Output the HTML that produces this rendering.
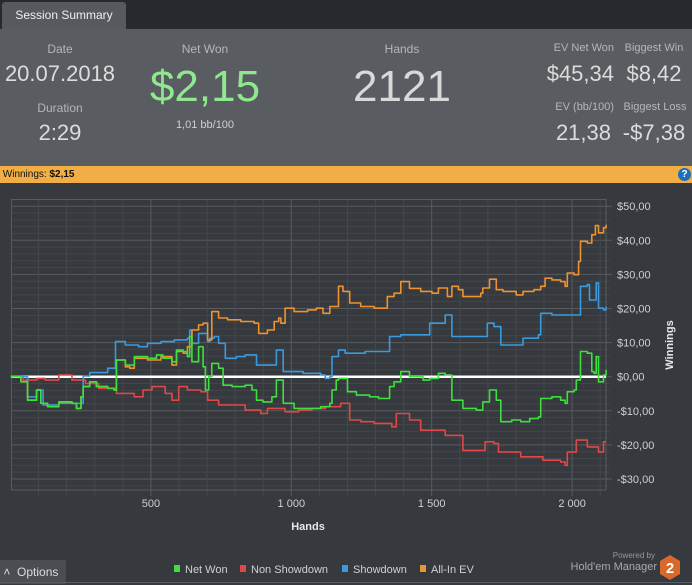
<!DOCTYPE html>
<html><head><meta charset="utf-8"><style>
body{margin:0;width:692px;height:585px;background:#36393d;font-family:"Liberation Sans",sans-serif;overflow:hidden;position:relative}
.a{position:absolute}
.lbl{color:#b4b7ba;font-size:12px}
.val{color:#dcdcdc;font-size:22px}
</style></head><body>
<div class="a" style="left:0;top:0;width:692px;height:29px;background:#26292d"></div>
<div class="a" style="left:2px;top:2px;width:124px;height:27px;background:#56595d;border-radius:3px 3px 0 0;color:#eee;font-size:12px;line-height:27px;text-align:center">Session Summary</div>
<div class="a" style="left:0;top:29px;width:692px;height:137px;background:#595c60"></div>
<div class="a lbl" style="left:0;top:42px;width:120px;text-align:center">Date</div>
<div class="a val" style="left:0;top:61px;width:120px;text-align:center">20.07.2018</div>
<div class="a lbl" style="left:0;top:101px;width:120px;text-align:center">Duration</div>
<div class="a val" style="left:0;top:120px;width:120px;text-align:center">2:29</div>
<div class="a lbl" style="left:145px;top:42px;width:120px;text-align:center">Net Won</div>
<div class="a" style="left:125px;top:62px;width:160px;text-align:center;color:#8fe88f;font-size:44px">$2,15</div>
<div class="a" style="left:145px;top:119px;width:120px;text-align:center;color:#cfcfcf;font-size:11px">1,01 bb/100</div>
<div class="a lbl" style="left:342px;top:42px;width:120px;text-align:center">Hands</div>
<div class="a" style="left:322px;top:62px;width:160px;text-align:center;color:#d9d9d9;font-size:44px">2121</div>
<div class="a lbl" style="left:534px;top:42px;width:80px;text-align:right;font-size:11px">EV Net Won</div>
<div class="a val" style="left:514px;top:61px;width:100px;text-align:right">$45,34</div>
<div class="a lbl" style="left:618px;top:42px;width:72px;text-align:center;font-size:11px">Biggest Win</div>
<div class="a val" style="left:614px;top:61px;width:80px;text-align:center">$8,42</div>
<div class="a lbl" style="left:534px;top:101px;width:80px;text-align:right;font-size:11px">EV (bb/100)</div>
<div class="a val" style="left:514px;top:120px;width:97px;text-align:right">21,38</div>
<div class="a lbl" style="left:618px;top:101px;width:74px;text-align:center;font-size:11px">Biggest Loss</div>
<div class="a val" style="left:614px;top:120px;width:80px;text-align:center">-$7,38</div>
<div class="a" style="left:0;top:166px;width:692px;height:17px;background:#f2ae46;font-size:10px;line-height:17px;color:#111">&nbsp;Winnings: <b>$2,15</b></div>
<div class="a" style="left:678px;top:168px;width:13px;height:13px;border-radius:50%;background:#1c6fc0;color:#fff;font-size:10px;font-weight:bold;line-height:13px;text-align:center">?</div>

<svg class="a" style="left:0;top:0" width="692" height="585" id="chart"></svg>

<div class="a" style="left:0;top:560px;width:66px;height:24px;background:#4a4d51;color:#ddd;font-size:12px;line-height:24px">&nbsp;&#708;&nbsp;&nbsp;Options</div>
<div class="a" style="left:0;top:582px;width:692px;height:1px;background:#5a5d61"></div>
<div class="a" style="left:580px;top:551px;width:75px;text-align:right;color:#999;font-size:8px">Powered by</div>
<div class="a" style="left:540px;top:561px;width:117px;text-align:right;color:#aaa;font-size:11px">Hold'em Manager</div>
<svg class="a" style="left:659px;top:555px" width="22" height="25"><polygon points="11,0 21,6 21,19 11,25 1,19 1,6" fill="#d9692a"/><text x="11" y="18" text-anchor="middle" fill="#fff" font-size="15" font-weight="bold" font-family="Liberation Sans">2</text></svg>

<script>
const evHands = [0,37,61,93,108,132,172,219,235,251,259,282,306,346,369,377,409,425,441,488,536,575,591,615,630,646,670,686,702,717,741,773,820,868,884,915,939,955,963,978,1010,1058,1089,1113,1137,1168,1184,1208,1247,1295,1327,1342,1366,1390,1421,1461,1501,1524,1556,1572,1595,1611,1643,1675,1682,1706,1730,1754,1801,1825,1864,1888,1904,1928,1959,1975,1983,2007,2023,2030,2054,2070,2083,2094,2112,2121];
const evValues = [0,-1.5,-6.9,-3.9,-7.8,-8.8,-7.4,-7.8,-9.3,-5.9,-2.9,-1.5,-2.9,-3.4,-3.9,4.9,2.9,2.5,5.4,4.9,5.9,3.4,7.4,6.9,8.8,13.7,15.2,15.7,10.8,19.1,17.2,16.7,16.2,15.7,12.7,13.7,16.2,17.2,15.7,20.1,19.1,19.6,20.1,18.6,20.6,26.5,25.0,21.6,20.6,20.1,20.1,23.5,24.5,27.9,25.9,25.0,24.5,26.0,23.5,26.5,25.5,23.5,23.5,24.5,26.0,28.6,25.5,25.0,24.0,25.0,25.5,26.5,28.9,28.4,27.9,26.5,30.4,29.9,33.8,39.7,39.2,41.6,44.3,42.2,43.7,44.6];
const netHands = [0,37,61,93,108,132,172,219,235,251,259,282,306,346,369,377,409,441,488,520,543,575,591,615,630,638,646,662,670,686,694,706,717,741,757,789,836,860,876,899,931,947,971,1010,1073,1105,1137,1145,1160,1168,1200,1232,1279,1311,1342,1350,1366,1390,1421,1469,1493,1524,1548,1572,1611,1659,1682,1706,1730,1746,1785,1817,1849,1880,1888,1928,1959,1975,1983,2007,2015,2030,2054,2070,2078,2086,2094,2112,2121];
const netValues = [0,-1.5,-6.9,-3.9,-7.8,-8.8,-7.4,-7.8,-9.3,-5.9,-2.9,-1.5,-2.9,-3.4,-3.9,4.9,3.4,5.9,5.4,6.4,5.4,4.4,7.8,7.4,5.9,11.8,4.4,4.4,8.8,2.9,-3.9,0,3.9,2.5,-2.5,-2.9,-2.5,-3.9,-6.9,-7.4,-5.9,-1.0,-7.8,-9.3,-9.3,-8.8,-7.8,-3.9,-1.0,-0.5,-4.4,-5.4,-5.9,-6.4,-6.4,-2.9,-1.5,1.5,0,-1.0,-0.5,1.0,0.5,-6.9,-9.3,-9.8,-7.4,-3.9,-6.9,-13.2,-12.7,-13.2,-12.3,-11.8,-6.4,-5.9,-6.9,-7.8,-4.4,-3.9,-1.0,7.4,6.9,1.5,1.0,5.9,-1.5,0.5,2.0];
const sdHands = [0,61,93,116,172,243,259,282,346,374,409,456,488,536,583,630,638,646,670,702,710,725,741,765,804,836,876,931,947,971,1042,1105,1121,1137,1145,1168,1192,1263,1342,1350,1390,1461,1493,1548,1572,1690,1698,1722,1746,1809,1825,1880,1888,1928,2023,2030,2054,2062,2078,2086,2094,2112,2121];
const sdValues = [0,-5.9,-3.9,-8.3,-7.8,-7.8,0.2,1.2,2.5,10.3,9.3,8.8,9.8,10.3,10.8,11.3,13.7,9.8,12.7,10.3,11.3,11.8,9.8,5.4,5.9,6.4,3.4,3.4,7.8,1.5,1.0,0.5,-0.5,0,5.9,7.8,6.9,7.4,7.4,11.8,12.3,12.3,15.7,18.1,11.8,11.8,15.7,14.7,9.3,9.3,11.3,12.3,18.6,18.1,18.1,26.5,27.0,22.5,22.5,27.5,20.1,19.6,20.6];
const nsdHands = [0,45,93,124,172,219,267,314,377,441,472,504,551,575,599,630,678,702,741,789,836,891,915,978,1026,1073,1121,1176,1208,1247,1295,1358,1374,1421,1461,1548,1611,1675,1690,1722,1738,1817,1896,1959,1975,1983,2015,2054,2094,2112,2121];
const nsdValues = [0,-1,-0.5,-1,0.5,-1,-2,-3.4,-4.9,-5.9,-3.9,-2.9,-4.9,-6.9,-2.9,-3.9,-4.4,-6.9,-8.3,-8.3,-9.8,-10.8,-9.3,-10.3,-9.8,-9.3,-8.8,-7.8,-12.7,-13.2,-13.7,-14.7,-10.8,-12.7,-15.7,-17.2,-21.6,-21.6,-19.1,-19.6,-22.1,-23.5,-24.5,-25.0,-26.0,-22.1,-18.6,-20.6,-22.1,-19.1,-19.1];
const yTicks = [50,40,30,20,10,0,-10,-20,-30];
const yTickLabels = ["$50,00","$40,00","$30,00","$20,00","$10,00","$0,00","-$10,00","-$20,00","-$30,00"];
const xTicks = [500,1000,1500,2000];
const xTickLabels = ["500","1 000","1 500","2 000"];

const L=11.5,R=606,T=199.5,B=490;
const X=h=>10.5+h*0.2808;
const Y=v=>376.7-v*3.41;
const svg=document.getElementById('chart');
const NS='http://www.w3.org/2000/svg';
function mk(tag,at){const e=document.createElementNS(NS,tag);for(const k in at)e.setAttribute(k,at[k]);svg.appendChild(e);return e;}
for(let v=-34;v<=54;v+=2){const y=Y(v);if(y<T||y>B)continue;
 const major=v%10===0;
 const g=mk('line',{x1:L,x2:R+(major?6:4),y1:y,y2:y,stroke:major?'#585b5f':'#424549','stroke-width':1});
 
 }
for(let h=100;h<=2100;h+=100){const x=X(h);
 const major=h%500===0;
 const g=mk('line',{x1:x,x2:x,y1:T,y2:B+(major?6:5),stroke:major?'#585b5f':'#45484c','stroke-width':1});
 
 }
const fr=mk('rect',{x:L,y:T,width:R-L,height:B-T,fill:'none',stroke:'#585b5f'});


yTicks.forEach((v,i)=>{const t=mk('text',{x:617,y:Y(v)+4,fill:'#d0d0d0','font-size':11,'font-family':'Liberation Sans'});t.textContent=yTickLabels[i];
 
 });
xTicks.forEach((h,i)=>{const t=mk('text',{x:X(h),y:507,fill:'#d0d0d0','font-size':11,'text-anchor':'middle','font-family':'Liberation Sans'});t.textContent=xTickLabels[i];
 
 });
const xt=mk('text',{x:308,y:530,fill:'#e8e8e8','font-size':11,'font-weight':'bold','text-anchor':'middle','font-family':'Liberation Sans'});xt.textContent='Hands';


const yt=mk('text',{x:0,y:0,fill:'#e8e8e8','font-size':11,'font-weight':'bold','text-anchor':'middle','font-family':'Liberation Sans',transform:'translate(673,345) rotate(-90)'});yt.textContent='Winnings';


function line(hs,vs,color,name){
 let d='M'+X(hs[0]).toFixed(1)+','+Y(vs[0]).toFixed(1);
 for(let i=1;i<hs.length;i++){d+='H'+X(hs[i]).toFixed(1)+'V'+Y(vs[i]).toFixed(1);}
 const p=mk('path',{d:d,fill:'none',stroke:color,'stroke-width':1.6,'stroke-linejoin':'round'});
 
 }
const z=mk('line',{x1:L,x2:R,y1:Y(0),y2:Y(0),stroke:'#ffffff','stroke-width':2.5});


line(nsdHands,nsdValues,'#e04848','non-showdown-line');
line(sdHands,sdValues,'#3a9ae0','showdown-line');
line(evHands,evValues,'#f0922e','all-in-ev-line');
line(netHands,netValues,'#3ee03e','net-won-line');
const legend=[['Net Won','#3ee03e',174],['Non Showdown','#e04848',240],['Showdown','#3a9ae0',342],['All-In EV','#f0922e',420]];
legend.forEach(l=>{const r=mk('rect',{x:l[2],y:565,width:6,height:7,fill:l[1]});
 
 
 const t=mk('text',{x:l[2]+11,y:573,fill:'#d0d0d0','font-size':11,'font-family':'Liberation Sans'});t.textContent=l[0];
 
 });
</script>
</body></html>
